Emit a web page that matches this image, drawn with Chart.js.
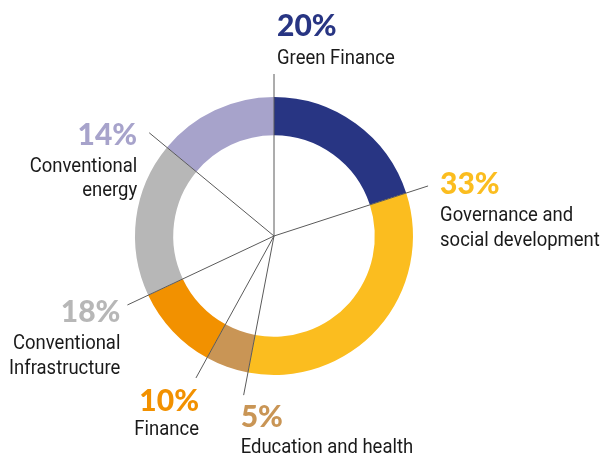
<!DOCTYPE html>
<html>
<head>
<meta charset="utf-8">
<script src="https://cdn.jsdelivr.net/npm/chart.js@4"></script>
<style>
  html, body { margin: 0; padding: 0; background: #ffffff; }
  #wrap { width: 603px; height: 457px; position: relative; }
</style>
</head>
<body>
<div id="wrap"><canvas id="c" width="603" height="457"></canvas></div>
<script>
// ---- data ----
const categories = ['Green Finance', 'Governance and social development', 'Education and health', 'Finance', 'Conventional Infrastructure', 'Conventional energy'];
const values = [20, 33, 5, 10, 18, 14];
const percentLabels = ['20%', '33%', '5%', '10%', '18%', '14%'];
const labelLines = [
  ['Green Finance'],
  ['Governance and', 'social development'],
  ['Education and health'],
  ['Finance'],
  ['Conventional', 'Infrastructure'],
  ['Conventional', 'energy']
];
const colors = ['#283583', '#FBBD1F', '#C99555', '#F29100', '#B7B7B7', '#A7A3CB'];

// ---- label layout (offsets from the leader line end) ----
const leaderLength = 162;
const condense = 0.88;
const labelLayout = [
  { align: 'left',  dx: 3,   dy: -38, first: 28, step: 25 },
  { align: 'left',  dx: 12,  dy: 8,   first: 27, step: 25 },
  { align: 'left',  dx: -3,  dy: 32,  first: 26, step: 25 },
  { align: 'right', dx: 3,   dy: 33,  first: 24, step: 25 },
  { align: 'right', dx: -7,  dy: 17,  first: 27, step: 25 },
  { align: 'right', dx: -12, dy: 12,  first: 27, step: 24 }
];

const labelPlugin = {
  id: 'leaderLabels',
  afterDatasetsDraw(chart) {
    const ctx = chart.ctx;
    const meta = chart.getDatasetMeta(0);
    meta.data.forEach((arc, i) => {
      const a = arc.startAngle;
      const cx = arc.x, cy = arc.y;
      const ex = cx + Math.cos(a) * leaderLength;
      const ey = cy + Math.sin(a) * leaderLength;
      ctx.save();
      ctx.strokeStyle = '#5a5a5a';
      ctx.lineWidth = 1;
      ctx.beginPath();
      ctx.moveTo(cx, cy);
      ctx.lineTo(ex, ey);
      ctx.stroke();

      const L = labelLayout[i];
      const x = ex + L.dx;
      let y = ey + L.dy;
      ctx.textAlign = L.align;
      ctx.textBaseline = 'alphabetic';
      ctx.fillStyle = colors[i];
      ctx.font = '900 30px Lato, "Open Sans", sans-serif';
      ctx.fillText(percentLabels[i], x, y);
      ctx.fillStyle = '#1a1a1a';
      ctx.font = '21px Roboto, "Liberation Sans", sans-serif';
      y += L.first;
      labelLines[i].forEach((t, k) => {
        ctx.save();
        ctx.translate(x, y + k * L.step);
        ctx.scale(condense, 1);
        ctx.fillText(t, 0, 0);
        ctx.restore();
      });
      ctx.restore();
    });
  }
};

new Chart(document.getElementById('c'), {
  type: 'doughnut',
  data: {
    labels: categories,
    datasets: [{
      data: values,
      backgroundColor: colors,
      borderWidth: 0,
      hoverOffset: 0
    }]
  },
  options: {
    responsive: false,
    animation: false,
    cutout: '72.5%',
    layout: { padding: { left: 135, right: 190, top: 97, bottom: 82 } },
    plugins: {
      legend: { display: false },
      tooltip: { enabled: false }
    }
  },
  plugins: [labelPlugin]
});
</script>
</body>
</html>
